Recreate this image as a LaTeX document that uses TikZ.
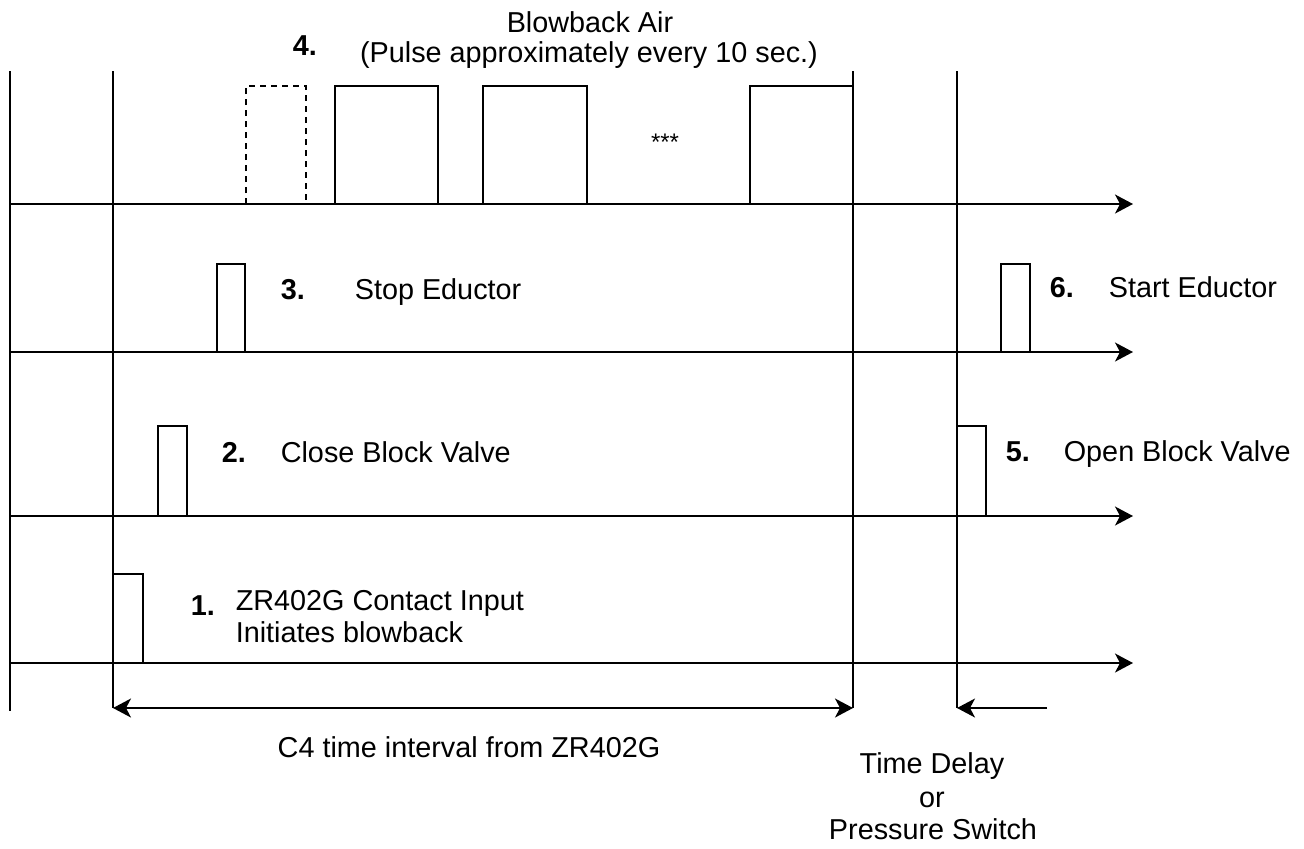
\documentclass[tikz,border=0pt]{standalone}
\usepackage{fontspec}
\setmainfont{Liberation Sans}
\usetikzlibrary{arrows.meta}
\begin{document}
\begin{tikzpicture}[x=0.5pt,y=-0.5pt, line width=0.8pt,
  every node/.style={inner sep=0pt, font=\fontsize{14.4}{16}\selectfont},
  lbl/.style={anchor=base west},
  ctr/.style={anchor=base},
  num/.style={anchor=base west, font=\fontsize{14.4}{16}\selectfont\bfseries},
  tip/.tip={Stealth[length=9pt,width=9.5pt,inset=2.5pt]},
  axis/.style={-tip},
  pulse/.style={draw},
  ghost/.style={draw, dash pattern=on 3pt off 2.5pt}]
\useasboundingbox (0,0) rectangle (1304,848);

% vertical reference lines
\coordinate (v1t) at (10,71);  \coordinate (v1b) at (10,711);
\coordinate (v2t) at (113,71); \coordinate (v2b) at (113,708);
\coordinate (v3t) at (853,71); \coordinate (v3b) at (853,708);
\coordinate (v4t) at (957,71); \coordinate (v4b) at (957,708);
\draw (v1t) -- (v1b);
\draw (v2t) -- (v2b);
\draw (v3t) -- (v3b);
\draw (v4t) -- (v4b);

% time axes
\foreach \n/\y in {a4/204, a3/352, a2/516, a1/663}{
  \coordinate (\n s) at (10,\y);
  \coordinate (\n e) at (1133,\y);
  \draw[axis] (\n s) -- (\n e);
}

% row 4 pulses
\draw[ghost] (246,204) -- (246,86) -- (306,86) -- (306,204);
\draw[pulse] (335,204) -- (335,86) -- (438,86) -- (438,204);
\draw[pulse] (483,204) -- (483,86) -- (587,86) -- (587,204);
\draw[pulse] (750,204) -- (750,86) -- (853,86) -- (853,204);
% row 3 / 6 pulses
\draw[pulse] (217,352) -- (217,264) -- (245,264) -- (245,352);
\draw[pulse] (1001,352) -- (1001,264) -- (1030,264) -- (1030,352);
% row 2 / 5 pulses
\draw[pulse] (158,516) -- (158,426) -- (187,426) -- (187,516);
\draw[pulse] (957,516) -- (957,426) -- (986,426) -- (986,516);
% row 1 pulse
\draw[pulse] (113,663) -- (113,574) -- (143,574) -- (143,663);

% labels
\node[ctr] (t4a) at (590,32) {Blowback Air};
\node[ctr] (t4b) at (589,62) {(Pulse approximately every 10 sec.)};
\node[num] (n4) at (292,55) {4.};
\node[ctr, font=\fontsize{12}{14}\selectfont] (dots) at (665,150) {***};

\node[num] (n3) at (280,299) {3.};
\node[lbl] (t3) at (354,299) {Stop Eductor};
\node[num] (n6) at (1049,297) {6.};
\node[lbl] (t6) at (1108,297) {Start Eductor};

\node[num] (n2) at (221,462) {2.};
\node[lbl] (t2) at (280,462) {Close Block Valve};
\node[num] (n5) at (1005,461) {5.};
\node[lbl] (t5) at (1063,461) {Open Block Valve};

\node[num] (n1) at (190,615) {1.};
\node[lbl] (t1a) at (235,610) {ZR402G Contact Input};
\node[lbl] (t1b) at (235,642) {Initiates blowback};

% interval arrows
\draw[tip-tip] (v2b) -- (v3b);
\coordinate (dstart) at (1047,708);
\draw[axis] (dstart) -- (v4b);

\node[ctr] (c4) at (469,757) {C4 time interval from ZR402G};
\node[ctr] (td1) at (932,773) {Time Delay};
\node[ctr] (td2) at (932,807) {or};
\node[ctr] (td3) at (933,839) {Pressure Switch};
\end{tikzpicture}
\end{document}
